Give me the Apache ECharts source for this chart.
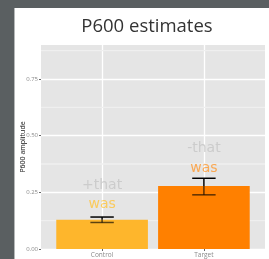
<!DOCTYPE html>
<html>
<head>
<meta charset="utf-8">
<script src="https://cdn.jsdelivr.net/npm/echarts@6/dist/echarts.min.js"></script>
<style>
  html, body { margin: 0; padding: 0; width: 269px; height: 259px; background: #5a5f61; overflow: hidden; }
  #chart { position: absolute; left: 14px; top: 8px; width: 254px; height: 251px; background: #fff; border-left: 1px solid #b5b8b8; }
</style>
</head>
<body>
<div id="chart"></div>
<script>
// data
const categories = ['Control', 'Target'];
const means = [0.129, 0.278];
const lows = [0.117, 0.239];
const highs = [0.141, 0.312];
const yTicks = [0, 0.25, 0.5, 0.75];
const yMinor = [0.125, 0.375, 0.625, 0.875];
// hand-written notes on the figure
const noteText = ['+that', 'was', '-that', 'was'];
const noteCat = [0, 0, 1, 1];
const noteY = [0.28, 0.195, 0.445, 0.357];

const barColors = ['#feb62c', '#ff8000'];
const noteColors = ['#c6c6c6', '#ffc43c', '#c6c6c6', '#ff982e'];
const font = 'Open Sans';

const myChart = echarts.init(document.getElementById('chart'));

function renderBar(params, api) {
    const x = api.value(0);
    const y = api.value(1);
    const p1 = api.coord([x - 0.45, y]);
    const p2 = api.coord([x + 0.45, 0]);
    return {
        type: 'rect',
        shape: { x: p1[0], y: p1[1], width: p2[0] - p1[0], height: p2[1] - p1[1] },
        style: { fill: barColors[params.dataIndex] }
    };
}

function renderErr(params, api) {
    const x = api.value(0);
    const m = api.value(1);
    const lo = api.value(2);
    const hi = api.value(3);
    const pHi = api.coord([x, hi]);
    const pM = api.coord([x, m]);
    const pLo = api.coord([x, lo]);
    const half = api.size([0.115, 0])[0];
    // the part of the bar inside the fill shows darker brown
    const inside = 'rgba(0,0,0,0.64)';
    const ln = (x1, y1, x2, y2, c) => ({
        type: 'line',
        shape: { x1: x1, y1: y1, x2: x2, y2: y2 },
        style: { stroke: c, lineWidth: 1.5 }
    });
    return {
        type: 'group',
        children: [
            ln(pHi[0], pHi[1], pM[0], pM[1], '#000'),
            ln(pM[0], pM[1], pLo[0], pLo[1], inside),
            ln(pHi[0] - half, pHi[1], pHi[0] + half, pHi[1], '#000'),
            ln(pLo[0] - half, pLo[1], pLo[0] + half, pLo[1], lo < m ? inside : '#000')
        ]
    };
}

// minor horizontal grid lines (ggplot style)
function renderMinor(params, api) {
    const cs = params.coordSys;
    const y = api.coord([1, api.value(1)])[1];
    return {
        type: 'line',
        shape: { x1: cs.x, y1: y, x2: cs.x + cs.width, y2: y },
        style: { stroke: '#efefef', lineWidth: 1.3 }
    };
}

var option = {
    animation: false,
    graphic: [{
        type: 'text',
        x: 132,
        y: 19,
        style: {
            text: 'P600 estimates',
            fontSize: 18.5,
            fontFamily: font,
            fill: '#333',
            textAlign: 'center',
            textVerticalAlign: 'middle'
        }
    }],
    grid: {
        left: 26,
        right: 4,
        top: 37,
        bottom: 10,
        show: true,
        backgroundColor: '#e5e5e5',
        borderWidth: 0,
        containLabel: false,
        outerBoundsMode: 'none'
    },
    xAxis: {
        type: 'value',
        min: 0.4,
        max: 2.6,
        axisLine: { show: false },
        axisTick: { show: true, length: 2, customValues: [1, 2], lineStyle: { color: '#666' } },
        axisLabel: {
            customValues: [1, 2],
            formatter: v => categories[Math.round(v) - 1],
            fontSize: 6.5,
            fontFamily: font,
            color: '#8a8a8a',
            margin: 2.5
        },
        splitLine: { show: true, lineStyle: { color: '#fff', width: 1.3 } }
    },
    yAxis: {
        type: 'value',
        min: 0,
        max: 0.9,
        position: 'left',
        name: 'P600 amplitude',
        nameLocation: 'middle',
        nameGap: 15,
        nameMoveOverlap: false,
        nameTextStyle: { fontSize: 7, color: '#111', fontFamily: font },
        axisLine: { show: false },
        axisTick: { show: true, length: 2, customValues: yTicks, lineStyle: { color: '#666' } },
        axisLabel: {
            customValues: yTicks,
            formatter: v => v.toFixed(2),
            fontSize: 6,
            fontFamily: font,
            color: '#8a8a8a',
            margin: 3
        },
        splitLine: { show: true, lineStyle: { color: '#fff', width: 1.3 } }
    },
    series: [
        {
            type: 'custom',
            renderItem: renderMinor,
            data: yMinor.map(v => [1, v]),
            silent: true,
            z: 1
        },
        {
            type: 'custom',
            renderItem: renderBar,
            data: categories.map((c, i) => [i + 1, means[i]]),
            z: 2
        },
        {
            type: 'custom',
            renderItem: renderErr,
            data: categories.map((c, i) => [i + 1, means[i], lows[i], highs[i]]),
            z: 3
        },
        {
            type: 'scatter',
            symbolSize: 0,
            data: noteText.map((t, i) => ({
                value: [noteCat[i] + 1, noteY[i]],
                label: { formatter: t, color: noteColors[i] }
            })),
            label: {
                show: true,
                position: 'inside',
                fontSize: 14,
                fontFamily: 'DejaVu Sans'
            },
            z: 4
        }
    ]
};
myChart.setOption(option);
</script>
</body>
</html>
